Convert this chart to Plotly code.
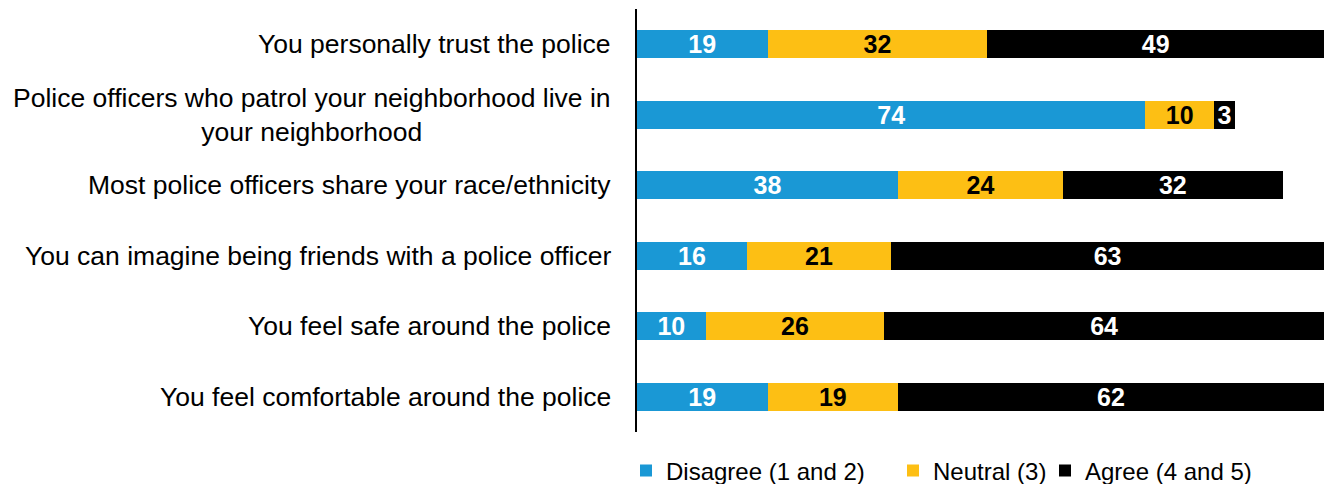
import plotly.graph_objects as go

statements = [
    "You personally trust the police",
    "Police officers who patrol your neighborhood live in<br>your neighborhood",
    "Most police officers share your race/ethnicity",
    "You can imagine being friends with a police officer",
    "You feel safe around the police",
    "You feel comfortable around the police",
]
disagree = [19, 74, 38, 16, 10, 19]
neutral = [32, 10, 24, 21, 26, 19]
agree = [49, 3, 32, 63, 64, 62]

FONT = "Liberation Sans, Arial, sans-serif"

# name, values, fill, label colour, legend id, legend left (px)
series = [
    ("Disagree (1 and 2)", disagree, "#1a98d5", "white", "legend", 626),
    ("Neutral (3)", neutral, "#fdbf14", "black", "legend2", 893),
    ("Agree (4 and 5)", agree, "#000000", "white", "legend3", 1045),
]

W, H = 1331, 484

fig = go.Figure()
legend_layouts = {}
for name, vals, color, tcolor, leg, lx in series:
    fig.add_trace(go.Bar(
        y=statements, x=vals, name=name, orientation="h",
        marker=dict(color=color, line=dict(width=0)),
        text=vals, texttemplate="<b>%{text}</b>",
        textposition="inside", insidetextanchor="middle", textangle=0,
        constraintext="none",
        textfont=dict(family=FONT, size=25, color=tcolor),
        hoverinfo="skip", legend=leg,
    ))
    legend_layouts[leg] = dict(
        orientation="h", xref="container", yref="container",
        x=lx / W, xanchor="left", y=1 - 471 / H, yanchor="middle",
        font=dict(family=FONT, size=24, color="black"),
        itemwidth=30, bgcolor="rgba(0,0,0,0)",
    )

# category labels drawn as centred multi-line annotations left of the axis
for s in statements:
    fig.add_annotation(
        x=0, xref="paper", y=s, yref="y", text=s, showarrow=False,
        xanchor="right", align="center", xshift=-24,
        font=dict(family=FONT, size=26.5, color="black"),
    )

fig.update_layout(
    width=W, height=H,
    barmode="stack", bargap=0.6,
    margin=dict(l=637, r=7, t=9, b=52, autoexpand=False),
    plot_bgcolor="white", paper_bgcolor="white",
    font=dict(family=FONT, size=22, color="black"),
    uniformtext=dict(minsize=25, mode="show"),
    xaxis=dict(range=[0, 100], showticklabels=False, showgrid=False,
               zeroline=False, showline=False, fixedrange=True),
    yaxis=dict(autorange="reversed", showticklabels=False, showgrid=False,
               showline=True, linecolor="black", linewidth=2, ticks="",
               zeroline=False),
    showlegend=True,
    **legend_layouts,
)

fig.write_html("out.html")
